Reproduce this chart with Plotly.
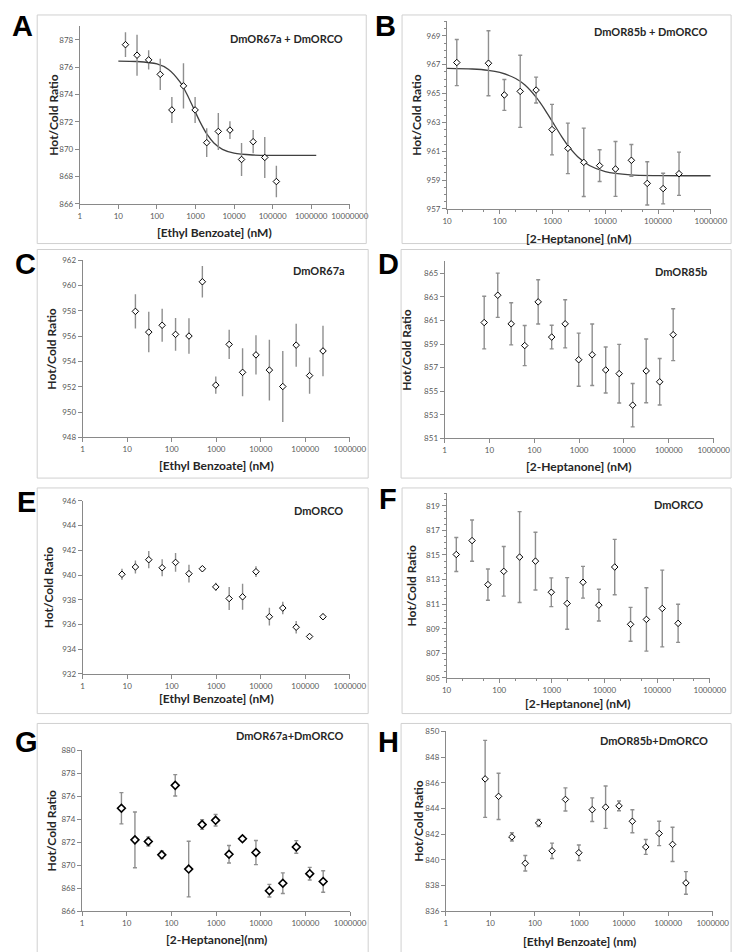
import plotly.graph_objects as go

W, H = 745, 952

# ---------------- data ----------------
xA = [15.3, 30.5, 61, 122, 244, 488, 977, 1953, 3906, 7813, 15625, 31250, 62500, 125000]
yA = [877.64, 876.87, 876.53, 875.47, 872.87, 874.63, 872.87, 870.48, 871.3, 871.4, 869.25, 870.55, 869.4, 867.64]
eA = [0.9, 1.5, 0.7, 1.15, 0.95, 1.65, 0.95, 1.05, 1.35, 0.65, 1.2, 0.85, 1.5, 1.15]
fitA_x = [10, 30, 100, 200, 400, 600, 900, 1300, 2000, 3000, 5000, 10000, 30000, 100000, 1000000, 1350000]
fitA_y = [876.44, 876.41, 876.23, 875.83, 874.90, 874.02, 872.97, 872.02, 871.08, 870.46, 869.99, 869.71, 869.58, 869.55, 869.55, 869.55]

xB = [15.3, 61, 122, 244, 488, 977, 1953, 3906, 7813, 15625, 31250, 62500, 125000, 250000]
yB = [967.15, 967.1, 964.9, 965.15, 965.24, 962.5, 961.2, 960.23, 960.0, 959.77, 960.37, 958.77, 958.41, 959.44]
eB = [1.6, 2.25, 1.07, 2.5, 0.9, 1.75, 1.75, 2.37, 1.1, 1.9, 1.1, 1.5, 1.06, 1.5]
fitB_x = [10, 30, 60, 100, 200, 300, 500, 700, 1000, 1500, 2000, 3000, 5000, 10000, 30000, 100000, 1000000]
fitB_y = [966.74, 966.70, 966.61, 966.46, 966.04, 965.59, 964.70, 963.94, 963.03, 962.0, 961.35, 960.62, 960.01, 959.59, 959.36, 959.31, 959.3]

xC = [15.3, 30.5, 61, 122, 244, 488, 977, 1953, 3906, 7813, 15625, 31250, 62500, 125000, 250000]
yC = [957.97, 956.33, 956.87, 956.15, 956.02, 960.31, 952.14, 955.36, 953.15, 954.53, 953.33, 952.03, 955.3, 952.89, 954.84]
eC = [1.35, 1.6, 1.3, 1.3, 1.4, 1.25, 0.68, 1.15, 1.9, 1.55, 2.4, 2.8, 1.7, 1.43, 2.0]

xD = [7.63, 15.3, 30.5, 61, 122, 244, 488, 977, 1953, 3906, 7813, 15625, 31250, 62500, 125000]
yD = [860.82, 863.13, 860.71, 858.87, 862.57, 859.59, 860.71, 857.67, 858.09, 856.8, 856.49, 853.82, 856.72, 855.8, 859.79]
eD = [2.23, 1.87, 1.78, 1.7, 1.87, 1.0, 2.04, 2.25, 2.6, 1.95, 2.48, 1.84, 2.7, 1.97, 2.2]

xE = [7.63, 15.3, 30.5, 61, 122, 244, 488, 977, 1953, 3906, 7813, 15625, 31250, 62500, 125000, 250000]
yE = [940.06, 940.65, 941.24, 940.59, 941.02, 940.11, 940.51, 939.04, 938.1, 938.24, 940.27, 936.63, 937.33, 935.78, 935.03, 936.63]
eE = [0.45, 0.53, 0.7, 0.68, 0.76, 0.72, 0.22, 0.33, 0.93, 1.05, 0.43, 0.72, 0.5, 0.5, 0.22, 0.27]

xF = [15.3, 30.5, 61, 122, 244, 488, 977, 1953, 3906, 7813, 15625, 31250, 62500, 125000, 250000]
yF = [815.04, 816.17, 812.59, 813.67, 814.83, 814.5, 811.97, 811.06, 812.78, 810.92, 814.02, 809.36, 809.76, 810.65, 809.44]
eF = [1.38, 1.68, 1.27, 2.02, 3.7, 2.35, 1.17, 2.1, 1.29, 1.29, 2.25, 1.38, 2.58, 3.12, 1.55]

xG = [7.63, 15.3, 30.5, 61, 122, 244, 488, 977, 1953, 3906, 7813, 15625, 31250, 62500, 125000, 250000]
yG = [874.95, 872.2, 872.06, 870.9, 876.94, 869.66, 873.53, 873.9, 870.95, 872.3, 871.1, 867.78, 868.43, 871.58, 869.26, 868.58]
eG = [1.36, 2.42, 0.4, 0.33, 0.93, 2.42, 0.42, 0.5, 0.76, 0.2, 1.05, 0.55, 0.9, 0.55, 0.55, 0.93]

xH = [7.63, 15.3, 30.5, 61, 122, 244, 488, 977, 1953, 3906, 7813, 15625, 31250, 62500, 125000, 250000]
yH = [846.3, 844.94, 841.78, 839.73, 842.87, 840.7, 844.7, 840.55, 843.9, 844.1, 844.2, 843.0, 841.0, 842.05, 841.2, 838.2]
eH = [3.0, 1.8, 0.32, 0.6, 0.28, 0.6, 0.9, 0.6, 0.92, 1.65, 0.38, 0.9, 0.58, 0.95, 1.33, 0.88]

x_ticks = [1, 10, 100, 1000, 10000, 100000, 1000000, 10000000]
x_ticktext = ["1", "10", "100", "1000", "10000", "100000", "1000000", "10000000"]

panel_letters = ["A", "B", "C", "D", "E", "F", "G", "H"]
panel_titles = ["DmOR67a + DmORCO", "DmOR85b + DmORCO", "DmOR67a", "DmOR85b",
                "DmORCO", "DmORCO", "DmOR67a+DmORCO", "DmOR85b+DmORCO"]
x_titles = ["[Ethyl Benzoate] (nM)", "[2-Heptanone] (nM)", "[Ethyl Benzoate] (nM)", "[2-Heptanone] (nM)",
            "[Ethyl Benzoate] (nM)", "[2-Heptanone] (nM)", "[2-Heptanone](nm)", "[Ethyl Benzoate] (nm)"]
y_title = "Hot/Cold Ratio"

series = [(xA, yA, eA), (xB, yB, eB), (xC, yC, eC), (xD, yD, eD),
          (xE, yE, eE), (xF, yF, eF), (xG, yG, eG), (xH, yH, eH)]
fits = {0: (fitA_x, fitA_y), 1: (fitB_x, fitB_y)}

# ---------------- layout (pixel geometry) ----------------
geo = [
    dict(px=(69, 348, 13.2, 193), xr=(0, 7), yr=(866, 879), box=(25, 365, 2, 233)),
    dict(px=(448.5, 721, 8.5, 198), xr=(1, 6), yr=(957, 970), box=(402, 742, 2, 233)),
    dict(px=(72, 348, 250, 429), xr=(0, 6), yr=(948, 962), box=(25, 367, 239, 470)),
    dict(px=(446, 724, 251, 430), xr=(0, 6), yr=(851, 866), box=(401, 742, 239, 470)),
    dict(px=(72, 348, 493, 668), xr=(0, 6), yr=(932, 946), box=(25, 367, 480, 708)),
    dict(px=(448, 720, 485.6, 672), xr=(1, 6), yr=(805, 820), box=(402, 742, 480, 708)),
    dict(px=(71.3, 348.3, 745, 907.7), xr=(0, 6), yr=(866, 880), box=(25, 367, 718, 950)),
    dict(px=(447.3, 723, 726, 907.7), xr=(0, 6), yr=(836, 850), box=(401, 742, 718, 950)),
]
letter_pos = [(10, 13), (385, 13), (13, 254), (388, 254), (14, 494), (387, 491), (14, 737), (388, 737)]
title_pos = [(343, 26), (719, 19), (345, 260), (719, 261), (343, 503), (715, 497), (343, 730), (720, 735)]
xtitle_y = [222, 228, 457, 458, 693, 698, 936, 938]
ytitle_x = [41, 417, 40, 407, 37, 412, 40, 419]
caps = [0, 2, 0, 2, 0, 2, 2, 2]
minor = [False, True, False, False, False, True, False, False]
msize = [5, 5, 5, 5, 5, 5, 6, 5]
mline = [1, 1, 1, 1, 1, 1, 1.6, 1]

AX = "#898989"
TICKC = "#595959"
TXT = "#262626"

fig = go.Figure()
layout = dict(width=W, height=H, margin=dict(l=0, r=0, t=0, b=0),
              paper_bgcolor="white", plot_bgcolor="white", showlegend=False)
shapes, annotations = [], []

for i, g in enumerate(geo):
    n = "" if i == 0 else str(i + 1)
    x0, x1, yt, yb = g["px"]
    xs, ys, es = series[i]
    if i in fits:
        fx, fy = fits[i]
        fig.add_trace(go.Scatter(x=fx, y=fy, mode="lines", xaxis="x" + n, yaxis="y" + n,
                                 line=dict(color="#404040", width=1.3, shape="spline", smoothing=0.8),
                                 hoverinfo="skip"))
    fig.add_trace(go.Scatter(
        x=xs, y=ys, mode="markers", xaxis="x" + n, yaxis="y" + n,
        error_y=dict(type="data", array=es, visible=True, color="#8f8f8f", thickness=1.4, width=caps[i]),
        marker=dict(symbol="diamond", size=msize[i], color="white", line=dict(color="black", width=mline[i]))))

    xa = dict(domain=[x0 / W, x1 / W], type="log", range=list(g["xr"]), anchor="y" + n,
              showline=True, linecolor=AX, linewidth=1, ticks="outside", ticklen=4, tickcolor=AX,
              tickvals=x_ticks, ticktext=x_ticktext, showgrid=False, zeroline=False,
              tickfont=dict(family="Lato", size=8, color=TICKC))
    ya = dict(domain=[1 - yb / H, 1 - yt / H], range=list(g["yr"]), anchor="x" + n,
              showline=True, linecolor=AX, linewidth=1, ticks="outside", ticklen=4, tickcolor=AX,
              tick0=g["yr"][0], dtick=2, showgrid=False, zeroline=False,
              tickfont=dict(family="Lato", size=8, color=TICKC))
    if minor[i]:
        xa["minor"] = dict(ticks="outside", ticklen=2, tickcolor=AX, showgrid=False)
        ya["minor"] = dict(ticks="outside", ticklen=2, tickcolor=AX, dtick=0.5, showgrid=False)
    layout["xaxis" + n] = xa
    layout["yaxis" + n] = ya

    bx0, bx1, by0, by1 = g["box"]
    shapes.append(dict(type="rect", xref="paper", yref="paper", x0=bx0 / W, x1=bx1 / W,
                       y0=1 - by1 / H, y1=1 - by0 / H, line=dict(color="#d0d0d0", width=1), layer="below"))

    lx, ly = letter_pos[i]
    annotations.append(dict(text="<b>%s</b>" % panel_letters[i], x=lx / W, y=1 - ly / H, xref="paper", yref="paper",
                            showarrow=False, xanchor="center", yanchor="middle",
                            font=dict(family="Liberation Sans", size=29, color="black")))
    tx, ty = title_pos[i]
    annotations.append(dict(text="<b>%s</b>" % panel_titles[i], x=tx / W, y=1 - ty / H, xref="paper", yref="paper",
                            showarrow=False, xanchor="right", yanchor="middle",
                            font=dict(family="Lato", size=11, color=TXT)))
    annotations.append(dict(text="<b>%s</b>" % x_titles[i], x=(x0 + x1) / 2 / W, y=1 - xtitle_y[i] / H,
                            xref="paper", yref="paper", showarrow=False, xanchor="center", yanchor="middle",
                            font=dict(family="Lato", size=12, color=TXT)))
    annotations.append(dict(text="<b>%s</b>" % y_title, x=ytitle_x[i] / W, y=1 - (yt + yb) / 2 / H,
                            xref="paper", yref="paper", showarrow=False, xanchor="center", yanchor="middle",
                            textangle=-90, font=dict(family="Lato", size=12, color=TXT)))

layout["shapes"] = shapes
layout["annotations"] = annotations
fig.update_layout(**layout)
fig.write_html("out.html")
